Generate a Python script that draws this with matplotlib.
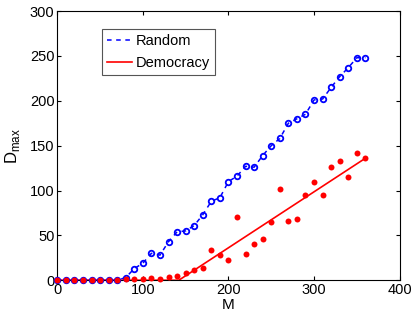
import numpy as np
import matplotlib
matplotlib.use('Agg')
import matplotlib.pyplot as plt

plt.rcParams['font.family'] = ['Liberation Sans', 'DejaVu Sans']

# M values (one point every 10)
m = list(range(0, 370, 10))

# Random: D_max values
random_d = [0, 0, 0, 0, 0, 0, 0, 0, 3, 13, 19, 30, 28, 43, 54, 55, 61, 73, 88, 92,
            110, 116, 127, 126, 139, 150, 158, 175, 180, 185, 201, 202, 215, 227,
            237, 248, 248]

# Democracy: D_max values
democracy_d = [0, 0, 0, 0, 0, 0, 0, 0, 1, 1.5, 1.5, 2.5, 1.5, 3.7, 4.8, 7.8, 11, 14,
               34, 28, 22, 70, 29, 40, 46, 65, 102, 66, 68, 95, 110, 95, 126, 133,
               115, 142, 136]

# fitted line for democracy
fit_x = [0, 142, 360]
fit_y = [0, 0, 136]

fig = plt.figure(figsize=(4.15, 3.17), dpi=100)
ax = fig.add_axes([0.138, 0.116, 0.825, 0.849])

ax.plot(m, random_d, '--', color='#0000ff', lw=1.1, dashes=(3, 3), label='Random',
        zorder=3)
ax.plot(m, random_d, 'o', color='#0000ff', mfc='none', mew=1.3, ms=4,
        clip_on=False, zorder=4)
ax.plot(fit_x, fit_y, '-', color='#ff0000', lw=1.2, label='Democracy', zorder=3)
ax.plot(m, democracy_d, 'o', color='#ff0000', ms=4.3, mew=0, clip_on=False,
        zorder=5)

ax.set_xlim(0, 400)
ax.set_ylim(0, 300)
ax.set_xticks([0, 100, 200, 300, 400])
ax.set_yticks([0, 50, 100, 150, 200, 250, 300])
ax.tick_params(direction='in', top=True, right=True, labelsize=10.5, length=3, pad=2)
for s in ax.spines.values():
    s.set_linewidth(0.8)
ax.set_xlabel('M', fontsize=11, labelpad=1)
ax.set_ylabel('D$_{\\mathregular{max}}$', fontsize=12, labelpad=6)

leg = ax.legend(loc='upper left', bbox_to_anchor=(0.13, 0.935), fontsize=10.5,
                fancybox=False, edgecolor='#555555', framealpha=1,
                handlelength=1.7, handletextpad=0.3, borderpad=0.35,
                labelspacing=0.55, borderaxespad=0)
leg.get_frame().set_linewidth(0.8)
leg.set_zorder(10)

fig.savefig('out.png', dpi=100)
